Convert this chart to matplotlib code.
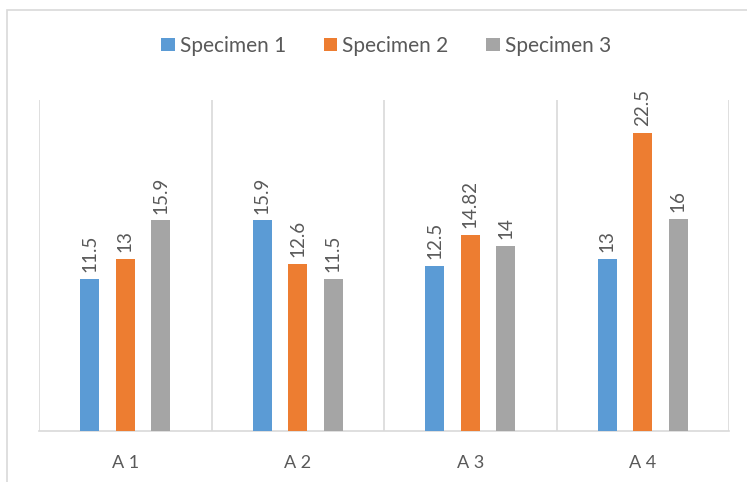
import numpy as np
import matplotlib.pyplot as plt
from matplotlib.patches import Rectangle

categories = ['A 1', 'A 2', 'A 3', 'A 4']
specimen_1 = [11.5, 15.9, 12.5, 13]
specimen_2 = [13, 12.6, 14.82, 22.5]
specimen_3 = [15.9, 11.5, 14, 16]
series_names = ['Specimen 1', 'Specimen 2', 'Specimen 3']

colors = ['#5B9BD5', '#ED7D31', '#A5A5A5']
grid_color = '#D9D9D9'
text_color = '#595959'

plt.rcParams['font.family'] = ['Lato', 'DejaVu Sans']

fig = plt.figure(figsize=(7.47, 4.82), dpi=100)
ax = fig.add_axes([0.0522, 0.1058, 0.9238, 0.6867])

# outer chart border (only top and left edges fall inside the image)
fig.patches.append(Rectangle((7 / 747, -0.1), 1.2, 1 - 10 / 482 + 0.1,
                             transform=fig.transFigure, fill=False,
                             edgecolor=grid_color, linewidth=1.2))

x = np.arange(len(categories))
width = 0.11
offset = 0.206
for i, (vals, name) in enumerate(zip([specimen_1, specimen_2, specimen_3], series_names)):
    pos = x + (i - 1) * offset
    bars = ax.bar(pos, vals, width, color=colors[i], label=name, zorder=3)
    for b, v in zip(bars, vals):
        ax.annotate(f'{v:g}', (b.get_x() + b.get_width() / 2, v),
                    xytext=(0, 5), textcoords='offset points',
                    rotation=90, ha='center', va='bottom',
                    fontsize=13.5, color=text_color)

ax.set_xlim(-0.5, len(categories) - 0.5)
ax.set_ylim(0, 25)

# vertical separators between categories
for b in np.arange(-0.5, len(categories), 1.0):
    ax.axvline(b, color=grid_color, linewidth=1.2, zorder=1)

for s in ['top', 'right', 'left']:
    ax.spines[s].set_visible(False)
ax.spines['bottom'].set_color(grid_color)
ax.spines['bottom'].set_linewidth(1.2)

ax.set_yticks([])
ax.set_xticks(x)
ax.set_xticklabels(categories, fontsize=13, color=text_color)
ax.tick_params(axis='x', length=0, pad=17)

fig.legend(loc='center', bbox_to_anchor=(0.517, 0.905), ncol=3, frameon=False,
           fontsize=15, labelcolor=text_color, handlelength=0.65, handleheight=0.65,
           handletextpad=0.25, columnspacing=1.8)

plt.savefig('out.png', dpi=100)
